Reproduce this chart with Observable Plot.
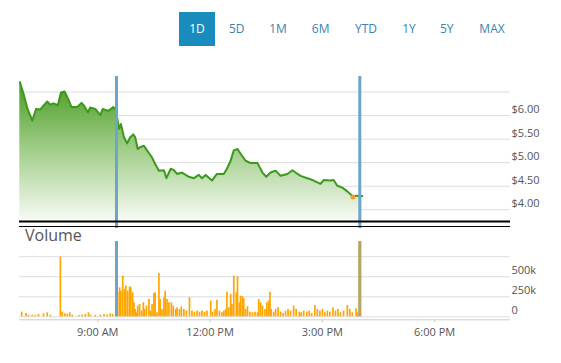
<!DOCTYPE html>
<html>
<head>
<meta charset="utf-8">
<script src="https://cdn.jsdelivr.net/npm/d3@7"></script>
<script src="https://cdn.jsdelivr.net/npm/@observablehq/plot@0.6"></script>
<style>
  html, body { margin: 0; padding: 0; background: #fff; }
  body { font-family: "Open Sans", sans-serif; }
  #wrap { position: relative; width: 561px; height: 363px; overflow: hidden; }
  .btn { position: absolute; top: 12px; height: 34px; line-height: 34px; font-size: 12px; color: #3b82b0; text-align: center; }
  .btn.sel { background: #1a8bbd; color: #fff; }
  #price, #volume { position: absolute; left: 0; }
  #price { top: 0; }
  #volume { top: 228px; }
  #vlabel { position: absolute; left: 25px; top: 224px; font-size: 16px; color: #555; }
</style>
</head>
<body>
<div id="wrap">
  <div id="buttons"></div>
  <div id="price"></div>
  <div id="volume"></div>
  <div id="vlabel">Volume</div>
</div>
<script>
// ---------- data ----------
const ranges = ["1D", "5D", "1M", "6M", "YTD", "1Y", "5Y", "MAX"];
const selectedRange = "1D";

const priceTimes = ["6:55","7:01","7:07","7:15","7:21","7:28","7:33","7:39","7:44","7:49","7:56","8:01","8:07","8:13","8:18","8:27","8:34","8:38","8:44","8:48","8:56","9:04","9:08","9:17","9:25","9:29","9:34","9:37","9:42","9:47","9:52","9:57","10:00","10:04","10:08","10:14","10:19","10:27","10:32","10:38","10:46","10:50","10:57","11:02","11:07","11:15","11:26","11:34","11:42","11:47","11:53","12:03","12:11","12:22","12:27","12:33","12:38","12:44","12:49","12:57","13:05","13:16","13:24","13:30","13:37","13:45","13:53","14:04","14:12","14:17","14:25","14:36","14:46","14:57","15:02","15:13","15:18","15:24","15:32","15:40","15:45","15:49","15:55","16:00","16:04"];
const priceValues = [6.71,6.46,6.16,5.89,6.14,6.13,6.21,6.30,6.23,6.26,6.22,6.49,6.51,6.34,6.18,6.18,6.27,6.21,6.07,6.17,6.14,6.01,6.14,6.10,6.18,6.12,5.72,5.82,5.54,5.41,5.54,5.60,5.54,5.29,5.33,5.36,5.26,5.11,4.97,4.83,4.84,4.67,4.87,4.84,4.76,4.79,4.70,4.67,4.74,4.67,4.74,4.62,4.76,4.76,4.87,5.04,5.26,5.29,5.19,5.04,4.99,4.99,4.79,4.70,4.79,4.83,4.72,4.76,4.84,4.79,4.72,4.67,4.62,4.55,4.63,4.62,4.63,4.51,4.47,4.39,4.33,4.28,4.30,4.28,4.29];

const markerTime = "15:49";
const markerPrice = 4.27;

const volumeTimes = ["6:58","7:05","7:09","7:15","7:20","7:25","7:33","7:39","7:44","8:00","8:03","8:07","8:11","8:15","8:19","8:30","8:35","8:40","8:45","8:48","8:56","9:04","9:10","9:15","9:20","9:24",
  "9:30","9:32","9:35","9:37","9:40","9:43","9:45","9:48","9:51","9:53","9:56","9:58","10:00","10:02","10:04","10:07","10:10","10:13","10:15","10:18","10:22","10:25","10:27","10:30","10:32","10:35","10:38","10:40","10:43","10:46","10:48","10:51","10:54","10:58","11:01","11:05","11:07","11:11","11:14","11:18","11:22","11:27","11:31","11:35","11:39","11:43","11:47","11:51","11:55",
  "12:01","12:04","12:08","12:11","12:15","12:19","12:22","12:25","12:27","12:30","12:33","12:35","12:38","12:42","12:44","12:47","12:49","12:52","12:54","12:57","13:00","13:04","13:08","13:12","13:16","13:18","13:21","13:24","13:28","13:31","13:34","13:36","13:38","13:42","13:45","13:49","13:53","13:57",
  "14:01","14:05","14:09","14:14","14:18","14:23","14:26","14:30","14:35","14:39","14:43","14:48","14:52","14:56","15:00","15:04","15:08","15:12","15:17","15:21","15:25","15:29","15:34","15:40","15:44","15:48","15:54","15:56"];
const volumeValues = [58000,42000,21000,21000,17000,29000,38000,50000,21000,746000,58000,38000,29000,50000,21000,17000,21000,29000,50000,21000,17000,21000,29000,21000,38000,29000,
  383000,300000,362000,320000,508000,342000,383000,320000,375000,362000,300000,175000,92000,50000,133000,154000,71000,175000,92000,133000,217000,71000,154000,292000,300000,50000,542000,217000,92000,237000,320000,217000,175000,175000,133000,92000,112000,92000,125000,92000,71000,240000,71000,58000,71000,58000,71000,58000,71000,
  196000,58000,92000,208000,71000,50000,71000,92000,308000,112000,280000,154000,508000,300000,500000,175000,258000,250000,225000,92000,125000,58000,50000,58000,50000,217000,175000,133000,92000,175000,196000,308000,92000,58000,92000,112000,58000,42000,
  71000,92000,71000,133000,92000,58000,50000,71000,58000,71000,42000,142000,92000,71000,92000,50000,71000,58000,112000,71000,92000,50000,71000,142000,92000,50000,100000,50000];
const closingTime = "16:00";
const closingVolume = 940000;

const sessionTimes = ["9:30", "16:00"];
const timeTicks = ["9:00", "12:00", "15:00", "18:00"];
const priceTicks = [4, 4.5, 5, 5.5, 6];
const priceGrid = [4, 4.5, 5, 5.5, 6, 6.5];
const volumeTicks = [0, 250000, 500000];
const volumeGrid = [0, 250000, 500000, 750000];

// ---------- helpers ----------
const parse = s => { const [h, m, sec] = s.split(":").map(Number); return new Date(2020, 0, 2, h, m, sec || 0); };
const xDomain = [parse("6:54:30"), parse("20:01:36")];
const priceDomain = [3.75, 6.83];
const volumeDomain = [0, 940000];

const price = priceTimes.map((t, i) => ({ t: parse(t), p: priceValues[i] }));
const volume = volumeTimes.map((t, i) => ({ t: parse(t), v: volumeValues[i] }));
const closing = [{ t: parse(closingTime), v: closingVolume }];
const sessions = sessionTimes.map(parse);

// ---------- buttons ----------
const btnCenters = [197, 236.7, 278, 320.7, 366, 409, 446.7, 492];
const btnBox = document.getElementById("buttons");
ranges.forEach((r, i) => {
  const d = document.createElement("div");
  d.className = "btn" + (r === selectedRange ? " sel" : "");
  const w = 36;
  d.style.left = (btnCenters[i] - w / 2) + "px";
  d.style.width = w + "px";
  d.textContent = r;
  btnBox.appendChild(d);
});

// ---------- price chart ----------
const gradientDefs = () => {
  const ns = "http://www.w3.org/2000/svg";
  const g = document.createElementNS(ns, "defs");
  g.innerHTML = '<linearGradient id="pg" x1="0" y1="0" x2="0" y2="1">' +
    '<stop offset="0" stop-color="#4a9b22"/>' +
    '<stop offset="0.5" stop-color="#a3cf8c"/>' +
    '<stop offset="1" stop-color="#f8fbf5"/></linearGradient>';
  return g;
};

const priceChart = Plot.plot({
  width: 561, height: 230,
  marginLeft: 19, marginRight: 51, marginTop: 76, marginBottom: 9,
  x: { type: "time", domain: xDomain, axis: null },
  y: { domain: priceDomain, axis: null },
  style: { background: "transparent", overflow: "visible", color: "#555", fontFamily: "Open Sans", fontSize: "11px" },
  marks: [
    gradientDefs,
    Plot.gridY(priceGrid, { stroke: "#dddddd", strokeOpacity: 1 }),
    Plot.areaY(price, { x: "t", y1: priceDomain[0], y2: "p", fill: "url(#pg)" }),
    Plot.lineY(price, { x: "t", y: "p", stroke: "#3c9a1b", strokeWidth: 2 }),
    Plot.ruleX(sessions, { y1: 3.60, y2: priceDomain[1], stroke: "#6ca5c8", strokeWidth: 3 }),
    Plot.dot([{ t: parse(markerTime), p: markerPrice }], { x: "t", y: "p", r: 2.5, fill: "#f0a030" }),
    Plot.axisY(priceTicks, { anchor: "right", label: null, tickSize: 0, tickPadding: 1, dy: -6, tickFormat: d => "$" + d.toFixed(2), fill: "#555", fontSize: 11 }),
    Plot.ruleY([priceDomain[0]], { stroke: "#000", strokeWidth: 2 }),
    Plot.ruleY([priceDomain[0]], { stroke: "#000", strokeWidth: 1.2, dy: 5 })
  ]
});
document.getElementById("price").appendChild(priceChart);

// ---------- volume chart ----------
const fmtTime = d3.timeFormat("%-I:%M %p");
const volumeChart = Plot.plot({
  width: 561, height: 135,
  marginLeft: 19, marginRight: 51, marginTop: 13, marginBottom: 46.7,
  x: { type: "time", domain: xDomain, axis: null },
  y: { domain: volumeDomain, axis: null },
  style: { background: "transparent", overflow: "visible", color: "#555", fontFamily: "Open Sans", fontSize: "11px" },
  marks: [
    Plot.gridY(volumeGrid, { stroke: "#dddddd", strokeOpacity: 1 }),
    Plot.ruleX(volume, { x: "t", y1: 0, y2: "v", stroke: "#ffa500", strokeWidth: 1.7 }),
    Plot.ruleX(sessions, { stroke: "#6ca5c8", strokeWidth: 3 }),
    Plot.ruleX(closing, { x: "t", y1: 0, y2: "v", stroke: "#ffa500", strokeWidth: 3, strokeOpacity: 0.55 }),
    Plot.ruleY([0], { stroke: "#cccccc", dy: 3 }),
    Plot.axisX(timeTicks.map(parse), { label: null, tickSize: 3, dy: 3, tickPadding: 5, tickFormat: fmtTime, stroke: "#cccccc", fill: "#555", fontSize: 11 }),
    Plot.axisY(volumeTicks, { anchor: "right", label: null, tickSize: 0, tickPadding: 1, dy: -6, tickFormat: d => d === 0 ? "0" : (d / 1000) + "k", fill: "#555", fontSize: 11 })
  ]
});
document.getElementById("volume").appendChild(volumeChart);
</script>
</body>
</html>
